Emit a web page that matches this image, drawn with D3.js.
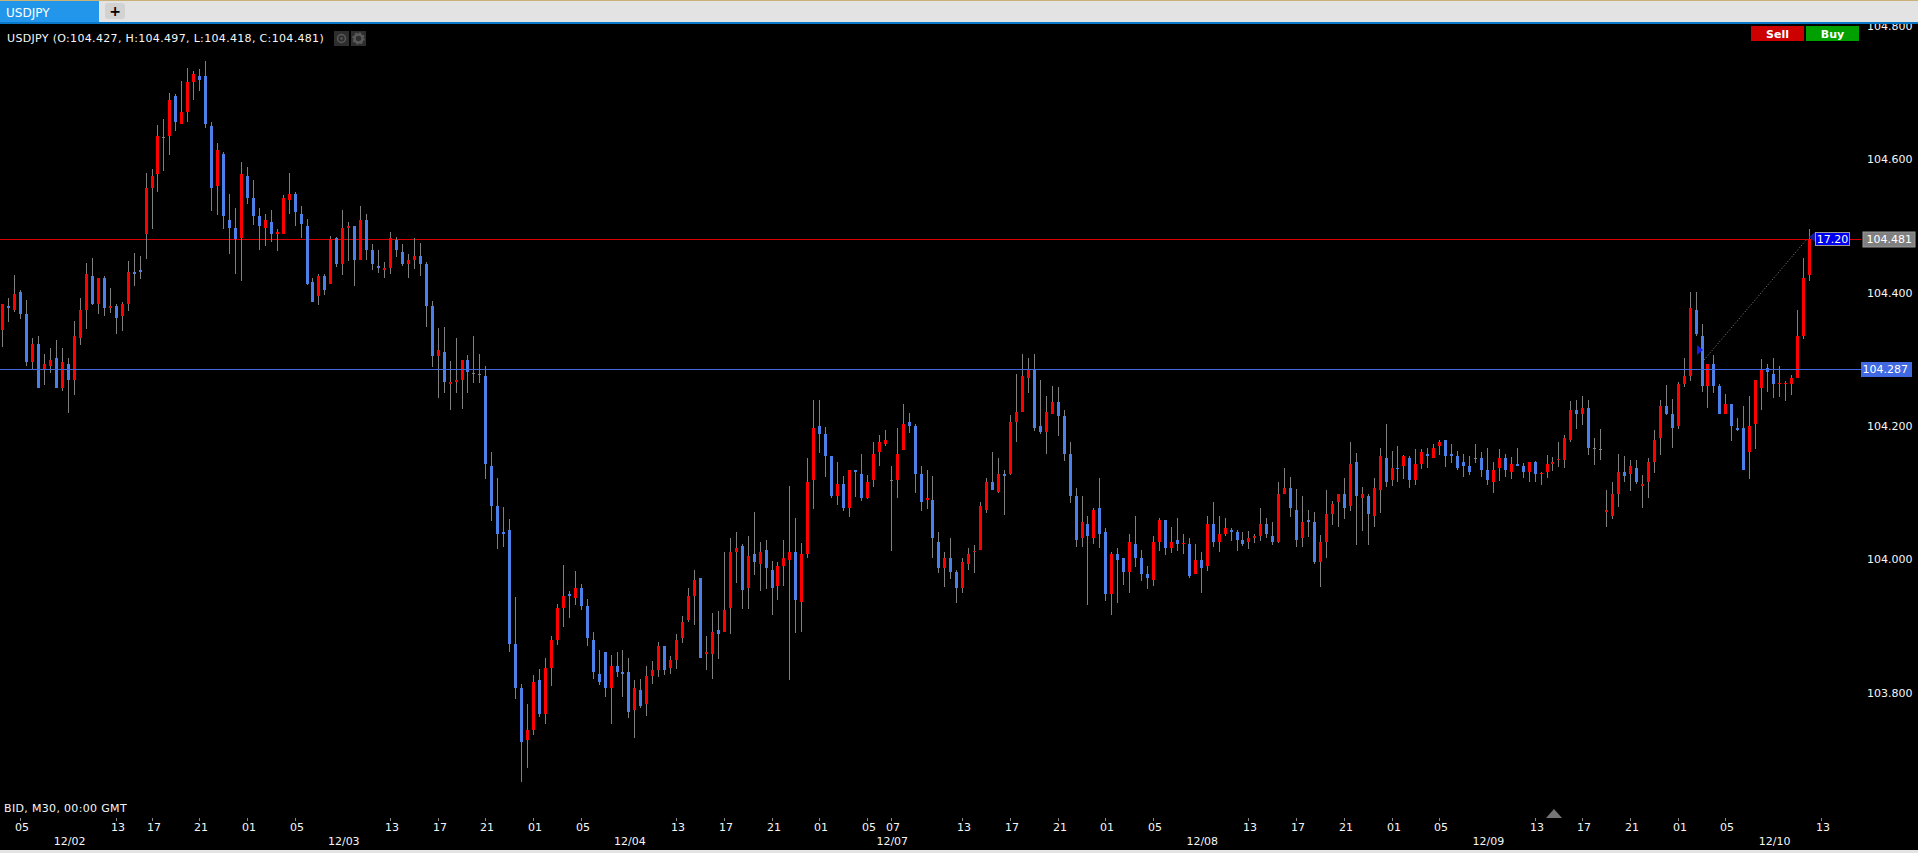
<!DOCTYPE html>
<html>
<head>
<meta charset="utf-8">
<title>USDJPY</title>
<script src="https://cdn.jsdelivr.net/npm/d3@7/dist/d3.min.js"></script>
<style>
html,body{margin:0;padding:0;background:#000;overflow:hidden}
svg{display:block}
text{font-family:"DejaVu Sans",sans-serif;font-size:11px;fill:#f6f6f6}
</style>
</head>
<body>
<svg id="c" width="1918" height="853"></svg>
<script>
// Prices are given in points (0.001) above this base price.
const basePrice = 104;
const opens = [
345,381,375,402,369,297,324,286.5,291,303,
258,294,270,333,375,426,384,423,378,381,
366,384,432,435,489,558,579,634.5,636,696,
654,672,717,726,726,651,561,609,510,498,
483,576,543,516,498,507,489,489,540,549,
519,501,417,396,426,414,483,444,498,501,
450,510,465,441,435,438,480,462,444,450,
456,444,381,306,312,264,267,270,300,280,
278.5,276,141,81,42,45,-126,-192,-270,-255,
-180,-231,-162,-120,-72,-51,-57,-42,-69,-120,
-171,-138,-192,-159,-168,-168,-225,-195,-216,-174,
-165,-129,-162,-150,-117,-90,-54,-27,-141,-141,
-105,-108,-72,12,21,-42,9,-6,15,-15,
-39,-9,0,12,-63,9,120,201,189,156,
96,114,78,135,129,93,120,162,174,119.5,
120,165,207,201,129,90,90,27,-12,3,
-18,-42,-6,12,15,75,117,102,129,129,
207,222,273,285,201,192,219,237,216,159,
96,33,54,33,78,42,-51,9,3,-18,
24,3,-21,-30,27,60,18,30,24,24,
-21,0,-9,54,27,39,45,42,30,27,
33,36,54,36,27,99,108,75,33,60,
57,-3,27,69,87,99,81,147,93,96,
66,105,153,120,138,141,153,120,144,159,
153,171,180,159,156,147,141,152.5,153,135,
117,138,153,132,144,141,132,147,129,132,
144,150,150,180,225,219,228,167.5,166,72,
66,99,132,129,138,111,117,147,183,231,
219,201,264,276,375,336,261,294,261,219,
234,198,198,162,204,258,288,279,264,264,
264,273,336,427];
const closes = [
384,378,399,369,297,324,258,294,300,258,
297,270,336,375,429,384,423,378,381,363,
384,432,429,432,558,576,636,634.5,690,657,
672,717,729,720,654,558,615,516,498,481,
579,543,516,501,510,489,492,543,549,522,
504,414,387,426,405,481,444,498,501,450,
510,465,444,438,438,483,465,444,450,456,
444,381,306,315,267,267,270,300,282,280,
278.5,144,81,39,39,-126,-192,-273,-255,-183,
-231,-162,-120,-72,-54,-54,-42,-69,-117,-168,
-183,-192,-159,-168,-171,-228,-192,-219,-174,-165,
-129,-165,-150,-120,-93,-54,-30,-147,-138,-108,
-111,-75,12,18,-45,6,-3,12,-12,-42,
-9,3,12,-60,9,117,198,189,156,96,
114,78,135,132,93,117,159,177,180,119.5,
159,204,201,129,87,93,33,-12,3,-18,
-42,-3,9,13.5,81,117,105,129,126,207,
222,276,285,198,192,222,237,216,159,96,
30,57,36,75,39,-51,9,0,-18,27,
3,-21,-27,27,60,18,27,24,25.5,-24,
0,-12,54,27,39,48,42,30,24,33,
36,54,39,27,99,108,78,30,57,57,
-3,27,69,84,99,78,144,96,99,69,
108,156,117,138,136.5,156,120,144,162,156,
168,177,156,156,138,141,132,152.5,135,120,
135,153,135,144,141,132,147,129,130.5,144,
147,151.5,183,225,219,228,168,167.5,166,75,
99,132,126,141,117,114,147,180,231,219,
198,264,276,378,339,261,294,261,219,234,
201,195,135,201,270,285,282,264,265.5,265.5,
273,336,423,481];
const highs = [
384,392.5,427.5,405,390,333,336,308.5,317.5,330,
317.5,302.5,358,392.5,445.5,453,423,426,407.5,384,
386.5,448.5,460.5,456,580.5,586.5,652,661,700,698.5,
718.5,737.5,733,736,748.5,657,625,612,549,527.5,
596.5,589,569.5,527.5,519,525,496.5,547.5,580.5,552,
531,511.5,422.5,429,428.5,486,484,525,506.5,501,
531,519,474,465,447,491.5,484,474,459,483,
475,447,388.5,348,349.5,298.5,333,300,307.5,336,
309,291,161.5,123,79,61,-55.5,-186,-216,-172.5,
-164,-147,-114,-66,-7.5,-46.5,-16.5,-36,-58.5,-108,
-135,-138,-142.5,-138,-135,-147,-180,-178.5,-159,-151.5,
-123,-129,-144,-111,-84,-42,-15,-27,-114,-79.5,
-76.5,12,33,42,24,36,72,27,30,-1.5,
-3,30,111,63,25.5,152.5,240,240,199.5,156,
146.5,126,135,135,159,127.5,177,187.5,195,141,
198,234,220.5,204,141,135,126,42,12,33,
-15,3,18,22.5,87,123,162,153,135,217.5,
279,309,303,309,270,246,261,259.5,225,177,
108,96,66,78,123,48,12,18,3,39,
66,15,-9,36,63,60,49.5,63,39,33,
24,12,66,87,66,63,48,45,42,43.5,
39,78,63,57,117,138,124.5,106.5,96,75,
72,37.5,105,88.5,99,123,177,160.5,109.5,99,
123,168,204,163.5,171,157.5,156,166.5,166.5,168,
174,180,180,174,163.5,159,156,174,162,168,
147,166.5,159,154.5,168,145.5,147,148.5,132,157.5,
154.5,177,187.5,238.5,240,246,240,183,196.5,105,
117,159,156,150,150,127.5,153,195,240,262.5,
241.5,267,303,402,402,354,294,307.5,264,249,
234,213,231,246,270,301.5,294,303,291,268.5,
277.5,375,453,497];
const lows = [
320,357.5,372.5,362,291,286.5,258,262.5,280.5,258,
253.5,220.5,247.5,322.5,346.5,382.5,369,366,370.5,339,
343.5,373.5,411,421.5,451.5,496.5,552,583.5,607.5,643.5,
654,657,690,703.5,648,523.5,517.5,496.5,459,429,
418.5,534,502.5,465,471,477,463.5,489,519,501,
483,412.5,387,382.5,397.5,414,440,427.5,448.5,411,
450,450,435,430.5,423,429,454.5,441,423,436.5,
426,349.5,289.5,243,250.5,225,250.5,226.5,250.5,265.5,
265.5,121.5,58.5,16.5,19.5,-138,-208.5,-333,-312,-262.5,
-235.5,-246,-189,-127.5,-100.5,-87,-67.5,-75,-129,-178.5,
-187.5,-205.5,-246,-175.5,-205.5,-237,-267,-222,-234,-186,
-175.5,-172.5,-171,-163.5,-124.5,-93,-97.5,-147,-165,-178.5,
-148.5,-108,-111,-34.5,-73.5,-73.5,-22.5,-46.5,-43.5,-82.5,
-60,-39,-180,-109.5,-108,3,76.5,160.5,124.5,93,
82.5,73.5,64.5,94.5,88.5,91.5,109.5,141,171,13.5,
93,165,190.5,100.5,73.5,76.5,3,-19.5,-40.5,-28.5,
-64.5,-49.5,-15,-19.5,15,70.5,105,100.5,67.5,127.5,
177,222,250.5,193.5,189,159,219,186,148.5,85.5,
19.5,19.5,-67.5,24,18,-61.5,-82.5,-64.5,-37.5,-49.5,
-10.5,-31.5,-43.5,-39,13.5,7.5,10.5,13.5,9,-27,
-21,-49.5,-16.5,19.5,12,36,28.5,13.5,21,16.5,
25.5,28.5,33,22.5,25.5,99,64.5,19.5,19.5,34.5,
-6,-40.5,3,52.5,49.5,61.5,73.5,22.5,43.5,22.5,
49.5,70.5,109.5,111,117,121.5,108,112.5,136.5,138,
153,157.5,139.5,145.5,135,124.5,127.5,145.5,124.5,112.5,
100.5,118.5,124.5,121.5,141,123,117,117,112.5,123,
133.5,139.5,138,177,196.5,202.5,157.5,142.5,150,50,
61.5,79.5,117,103.5,114,78,93,130.5,157.5,217.5,
168,196.5,259.5,268.5,336,252,228,250.5,219,219,
178.5,193.5,135,121.5,166.5,225,252,243,244.5,238.5,
247.5,273,331.5,418];

const priceTicks = [103.8,104,104.2,104.4,104.6,104.8];
const hourTickBars = [3,19,25,33,41,49,65,73,81,89,97,113,121,129,137,145,149,161,169,177,185,193,209,217,225,233,241,257,265,273,281,289,305];
const hourTickLabels = ["05","13","17","21","01","05","13","17","21","01","05","13","17","21","01","05","07","13","17","21","01","05","13","17","21","01","05","13","17","21","01","05","13"];
const dateLabels = ["12/02","12/03","12/04","12/07","12/08","12/09","12/10"];
const dateLabelBars = [11,57,105,149,201,249,297];
const symbol = "USDJPY";
const lastQuote = {O:104.427,H:104.497,L:104.418,C:104.481};
const askLine = 104.481, bidLine = 104.287;
const measureFrom = {bar:285, price:104.30};
const measureTo = {bar:303, price:104.481};
const measureLabel = "17.20";

const svg = d3.select("#c");
const x = d3.scaleLinear().domain([0,26]).range([2.98,157.98]);
const y = d3.scaleLinear().domain([103.8,104.8]).range([2080/3,80/3]);
const col = i => Math.floor(x(i));
const row = p => Math.round(y(p));
const price = v => basePrice + v/1000;
const bars = d3.range(opens.length).map(i => ({i,o:price(opens[i]),h:price(highs[i]),l:price(lows[i]),c:price(closes[i])}));
const UP="#ff0000", DOWN="#4a80e8", DOJI="#808080", WICK="#7f7f7f";

// horizontal price lines
svg.append("line").attr("x1",0).attr("x2",1861).attr("y1",row(askLine)+.5).attr("y2",row(askLine)+.5).attr("stroke","#d80000");

// candles
const g = svg.append("g").attr("shape-rendering","crispEdges");
g.selectAll("rect.w").data(bars).join("rect").attr("class","w")
 .attr("x",d=>col(d.i)).attr("width",1)
 .attr("y",d=>row(d.h)).attr("height",d=>Math.max(1,row(d.l)-row(d.h)))
 .attr("fill",WICK);
g.selectAll("rect.b").data(bars).join("rect").attr("class","b")
 .attr("x",d=>col(d.i)-1).attr("width",3)
 .attr("y",d=>row(Math.max(d.o,d.c)))
 .attr("height",d=>Math.max(1,row(Math.min(d.o,d.c))-row(Math.max(d.o,d.c))))
 .attr("fill",d=>d.c>d.o?UP:d.c<d.o?DOWN:DOJI);

svg.append("line").attr("x1",0).attr("x2",1861).attr("y1",row(bidLine)+.5).attr("y2",row(bidLine)+.5).attr("stroke","#4169e1");

// price axis
const ya = svg.append("g").attr("transform","translate(1867,0)")
 .call(d3.axisRight(y).tickValues(priceTicks).tickSize(0).tickPadding(0).tickFormat(d3.format(".3f")));
ya.select(".domain").remove();
ya.selectAll("text").attr("fill",null).attr("dy","0.27em");

// time axis
const tickX = d3.scaleOrdinal().domain(hourTickBars).range(hourTickBars.map(i=>col(i)+.5));
const xa = svg.append("g").attr("transform","translate(0,818)")
 .call(d3.axisBottom(tickX).offset(0).tickSize(3).tickPadding(0)
   .tickFormat((d,i)=>hourTickLabels[i]));
xa.select(".domain").remove();
xa.selectAll("line").attr("stroke","#8a8a8a");
xa.selectAll("text").attr("fill",null).attr("dx","1.5").attr("dy","0.33em").attr("y",9);
svg.append("g").selectAll("text").data(dateLabels).join("text")
 .attr("x",(d,i)=>x(dateLabelBars[i])+1).attr("y",845).attr("text-anchor","middle").text(d=>d);
svg.append("text").attr("x",4).attr("y",812).style("letter-spacing","0.33px").text("BID, M30, 00:00 GMT");

// scroll marker
svg.append("path").attr("d","M1546,818L1554,809L1562,818Z").attr("fill","#757575");

// measurement
svg.append("line").attr("x1",col(measureFrom.bar)+2).attr("y1",row(measureFrom.price))
 .attr("x2",col(measureTo.bar)-2).attr("y2",row(measureTo.price))
 .attr("stroke","#8a8a8a").attr("stroke-dasharray","1 2");
svg.append("path").attr("d","M1697,345L1703,350L1697,355Z").attr("fill","#1a1ae0");
svg.append("path").attr("d","M1815,232L1809,237L1815,242Z").attr("fill","#1a1a9a");
svg.append("rect").attr("x",1815.5).attr("y",232.5).attr("width",34).attr("height",13).attr("fill","#0000f0").attr("stroke","#9a9a9a");
svg.append("text").attr("x",1832.5).attr("y",243).attr("text-anchor","middle").style("fill","#fff").text(measureLabel);

// price labels
svg.append("rect").attr("x",1863).attr("y",232).attr("width",52).attr("height",15).attr("fill","#808080").attr("stroke","#9a9a9a");
svg.append("text").attr("x",1912).attr("y",243).attr("text-anchor","end").style("fill","#fff").text(askLine.toFixed(3));
svg.append("rect").attr("x",1861).attr("y",362).attr("width",51).attr("height",15).attr("fill","#4169e1");
svg.append("text").attr("x",1908).attr("y",373).attr("text-anchor","end").style("fill","#fff").text(bidLine.toFixed(3));

// header
svg.append("rect").attr("width",1918).attr("height",22).attr("fill","#e3e3e3");
svg.append("rect").attr("width",1918).attr("height",1).attr("fill","#c9b178");
svg.append("rect").attr("y",1).attr("width",99).attr("height",21).attr("fill","#2196ea");
svg.append("rect").attr("y",22).attr("width",1918).attr("height",2).attr("fill","#0a78c8");
svg.append("text").attr("x",6).attr("y",17).style("font-size","12px").style("fill","#fff").text(symbol);
svg.append("rect").attr("x",105).attr("y",3).attr("width",20).attr("height",16).attr("rx",3).attr("fill","#d2d2d2");
svg.append("text").attr("x",115).attr("y",16).attr("text-anchor","middle").style("font-size","14px").style("font-weight","bold").style("fill","#000").text("+");

// title
svg.append("text").attr("x",7).attr("y",42).style("letter-spacing","0.33px")
 .text(`${symbol} (O:${lastQuote.O.toFixed(3)}, H:${lastQuote.H.toFixed(3)}, L:${lastQuote.L.toFixed(3)}, C:${lastQuote.C.toFixed(3)})`);
svg.append("rect").attr("x",334).attr("y",31).attr("width",15).attr("height",15).attr("fill","#2e2e2e");
svg.append("circle").attr("cx",341.5).attr("cy",38.5).attr("r",4).attr("fill","none").attr("stroke","#5a5a5a").attr("stroke-width",1.5);
svg.append("circle").attr("cx",341.5).attr("cy",38.5).attr("r",1.2).attr("fill","#5a5a5a");
svg.append("rect").attr("x",351).attr("y",31).attr("width",15).attr("height",15).attr("fill","#2e2e2e");
svg.append("circle").attr("cx",358.5).attr("cy",38.5).attr("r",4).attr("fill","none").attr("stroke","#5a5a5a").attr("stroke-width",2.5);
svg.append("circle").attr("cx",358.5).attr("cy",38.5).attr("r",5.6).attr("fill","none").attr("stroke","#5a5a5a").attr("stroke-width",1.4).attr("stroke-dasharray","2 2.4");

// Sell / Buy
svg.append("rect").attr("x",1751).attr("y",26).attr("width",53).attr("height",15).attr("fill","#cc0000");
svg.append("text").attr("x",1777.5).attr("y",37.5).attr("text-anchor","middle").style("font-weight","bold").style("fill","#fff").text("Sell");
svg.append("rect").attr("x",1806).attr("y",26).attr("width",53).attr("height",15).attr("fill","#00a000");
svg.append("text").attr("x",1832.5).attr("y",37.5).attr("text-anchor","middle").style("font-weight","bold").style("fill","#fff").text("Buy");

// bottom edge
svg.append("rect").attr("y",850).attr("width",1918).attr("height",3).attr("fill","#e3e3e3");
</script>
</body>
</html>
